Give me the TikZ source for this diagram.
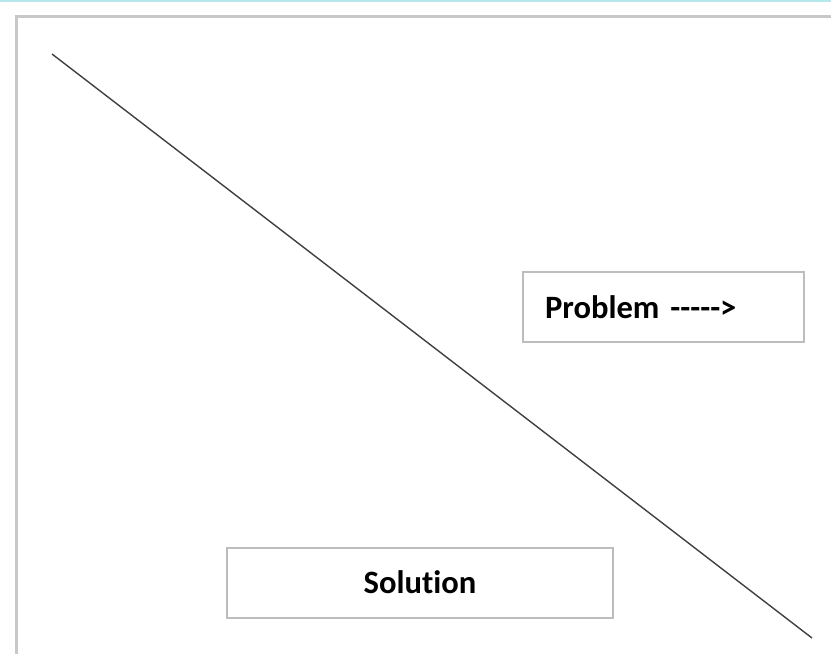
\documentclass[tikz,border=0pt]{standalone}
\usepackage{fontspec}
\setmainfont{Carlito}[Ligatures={TeXOff,CommonOff}]
\definecolor{framegrey}{HTML}{C8C8C8}
\definecolor{boxgrey}{HTML}{BDBDBD}
\definecolor{topcyan}{HTML}{B4E8EC}
\definecolor{linegrey}{HTML}{404040}
\tikzset{
	labelbox/.style={draw=boxgrey, line width=2pt, inner sep=0pt, font=\fontsize{32.6}{38}\selectfont\bfseries},
}
\begin{document}
\begin{tikzpicture}[x=1pt, y=-1pt]
	\useasboundingbox[fill=white] (0,0) rectangle (831,654);
	\fill[topcyan] (0,0) rectangle (831,2);
	\draw[framegrey, line width=3pt] (16,654) -- (16,16) -- (831,16);
	\coordinate(start) at (52,54);
	\coordinate(end) at (812,638);
	\draw[linegrey, line width=1.4pt] (start) -- (end);
	\node[labelbox, minimum width=281pt, minimum height=70pt, text width=237pt, align=left](problem) at (663.5,307){Problem ----->};
	\node[labelbox, minimum width=386pt, minimum height=70pt](solution) at (420,582.5){Solution};
\end{tikzpicture}
\end{document}
